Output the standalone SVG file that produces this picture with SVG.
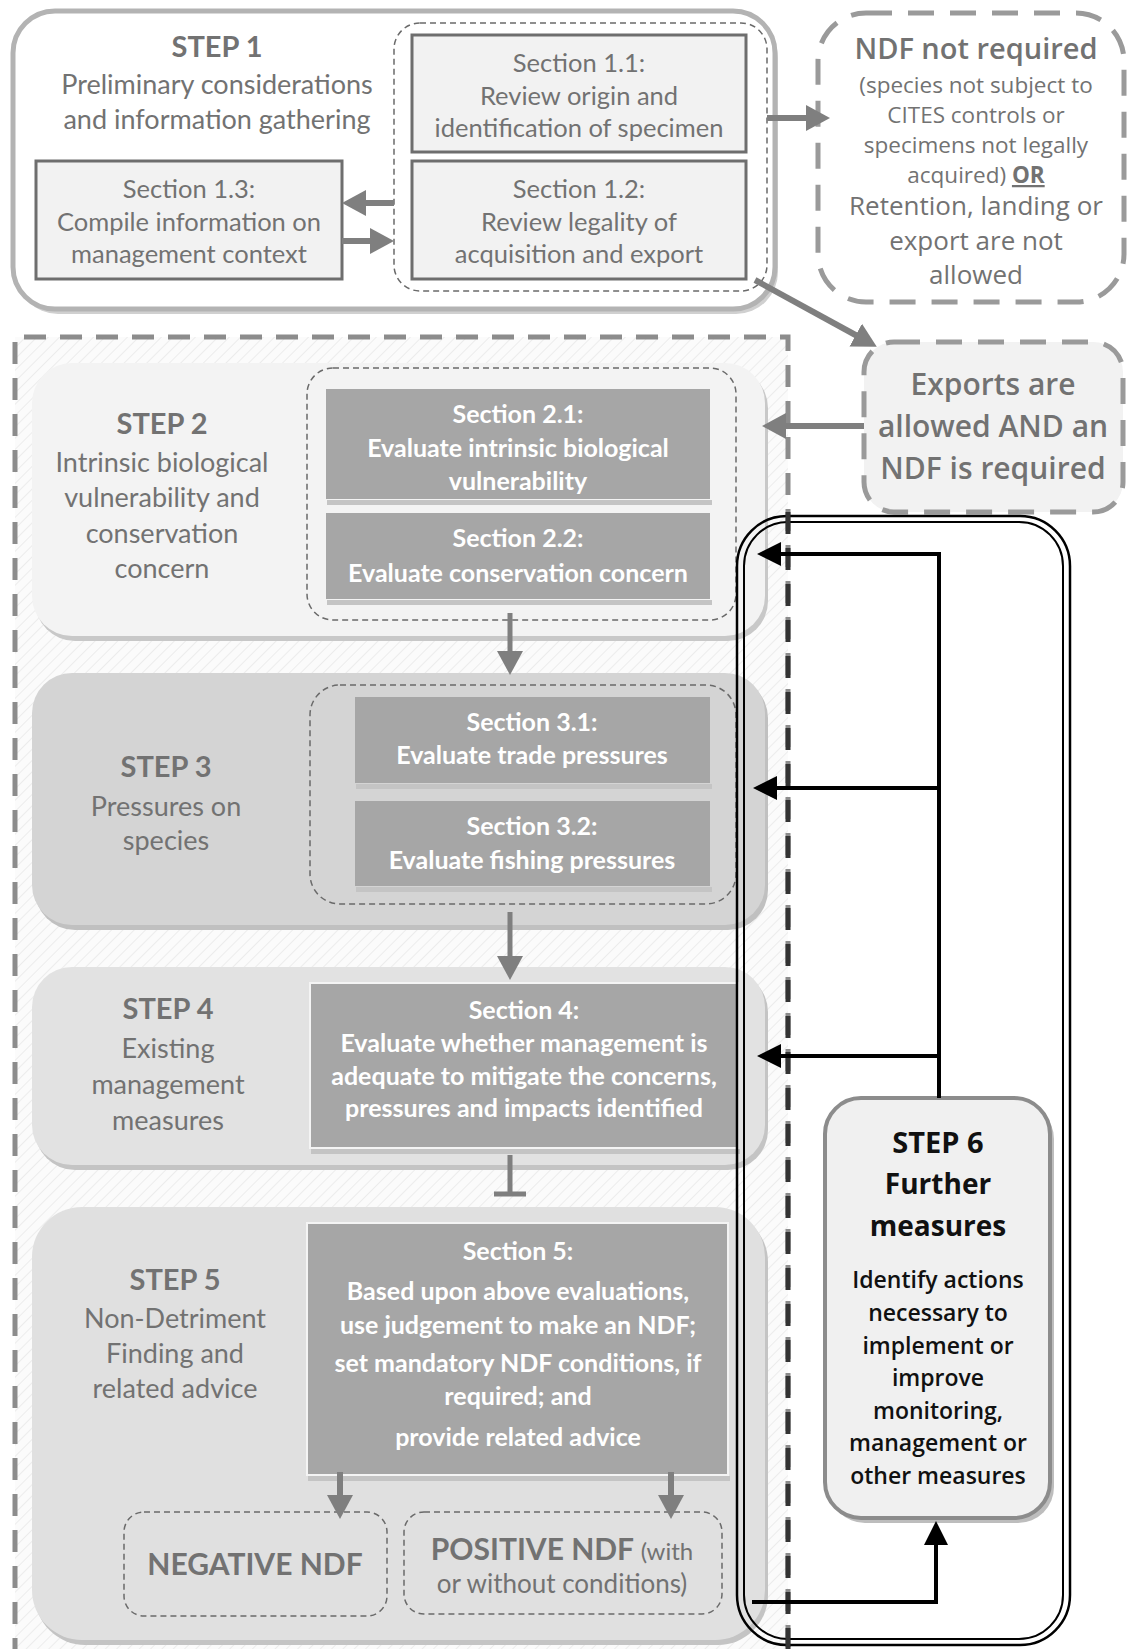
<svg xmlns="http://www.w3.org/2000/svg" width="1129" height="1649" viewBox="0 0 1129 1649">
  <style>
    .lt { font-family: Lato, "Liberation Sans", sans-serif; text-anchor: middle; }
    .os { font-family: "Open Sans", "Noto Sans", sans-serif; text-anchor: middle; }
    .grey { fill: #727272; }
    .wh { fill: #ffffff; font-weight: 700; }
    .title { font-size: 29px; font-weight: 700; }
    .desc { font-size: 27px; }
    .sec { font-size: 25.5px; }
    .secw { font-size: 25px; }
    .lightbox { fill: #f2f2f2; stroke: #6e6e6e; stroke-width: 3; }
    .darkbox { fill: #a6a6a6; }
    .shade { fill: #c4c4c4; }
    .thindash { fill: none; stroke: #6a6a6a; stroke-width: 1.5; stroke-dasharray: 6 4; }
    .bigdash { fill: none; stroke: #8c8c8c; stroke-width: 5; stroke-dasharray: 22 14; }
    .garrow { stroke: #7f7f7f; stroke-width: 6; fill: none; marker-end: url(#ghead); }
    .barrow { stroke: #000; stroke-width: 4; fill: none; }
    .bhead { marker-end: url(#bhead); }
    .s6 { font-size: 23px; font-weight: 600; fill: #111; }
  </style>
  <defs>
    <marker id="ghead" markerUnits="userSpaceOnUse" viewBox="0 0 24 26" markerWidth="24" markerHeight="26" refX="6" refY="13" orient="auto">
      <path d="M0,0 L24,13 L0,26 z" fill="#7f7f7f"/>
    </marker>
    <marker id="bhead" markerUnits="userSpaceOnUse" viewBox="0 0 24 24" markerWidth="24" markerHeight="24" refX="6" refY="12" orient="auto">
      <path d="M0,0 L24,12 L0,24 z" fill="#000"/>
    </marker>
    <pattern id="hatch" patternUnits="userSpaceOnUse" width="8" height="8" patternTransform="rotate(45)">
      <rect width="8" height="8" fill="#fbfbfb"/>
      <line x1="0" y1="0" x2="0" y2="8" stroke="#ececec" stroke-width="2"/>
    </pattern>
    <clipPath id="clip21"><rect x="326" y="389" width="384" height="110"/></clipPath>
  </defs>

  <rect width="1129" height="1649" fill="#ffffff"/>

  <!-- Steps 2-5 group frame -->
  <g id="assessment-frame">
    <rect x="15" y="337" width="773" height="1320" fill="url(#hatch)"/>
    <path class="bigdash" d="M15,1660 V337 H788 V1660"/>
  </g>

  <!-- STEP 1 -->
  <g id="step1">
    <rect x="16" y="16" width="762" height="298" rx="42" fill="#d0d0d0"/>
    <rect x="13" y="11" width="762" height="298" rx="42" fill="#ffffff" stroke="#b3b3b3" stroke-width="5"/>
    <text class="lt grey title" x="217" y="57">STEP 1</text>
    <text class="lt grey desc" x="217" y="94">Preliminary considerations</text>
    <text class="lt grey desc" x="217" y="129">and information gathering</text>
    <rect class="thindash" x="394" y="23" width="373" height="268" rx="26"/>
  </g>
  <g id="section1-1">
    <rect class="lightbox" x="412" y="35" width="334" height="117"/>
    <text class="lt grey sec" x="579" y="72">Section 1.1:</text>
    <text class="lt grey sec" x="579" y="105">Review origin and</text>
    <text class="lt grey sec" x="579" y="137">identification of specimen</text>
  </g>
  <g id="section1-2">
    <rect class="lightbox" x="412" y="161" width="334" height="118"/>
    <text class="lt grey sec" x="579" y="198">Section 1.2:</text>
    <text class="lt grey sec" x="579" y="231">Review legality of</text>
    <text class="lt grey sec" x="579" y="263">acquisition and export</text>
  </g>
  <g id="section1-3">
    <rect class="lightbox" x="36" y="161" width="306" height="118"/>
    <text class="lt grey sec" x="189" y="198">Section 1.3:</text>
    <text class="lt grey sec" x="189" y="231">Compile information on</text>
    <text class="lt grey sec" x="189" y="263">management context</text>
  </g>

  <!-- NDF not required -->
  <g id="ndf-not-required">
    <rect x="818" y="13" width="306" height="289" rx="48" fill="#ffffff" stroke="#9a9a9a" stroke-width="5" stroke-dasharray="26 16"/>
    <text class="os grey" x="976" y="59" font-size="29" font-weight="600">NDF not required</text>
    <text class="os grey" x="976" y="93" font-size="22.5">(species not subject to</text>
    <text class="os grey" x="976" y="123" font-size="22.5">CITES controls or</text>
    <text class="os grey" x="976" y="153" font-size="22.5">specimens not legally</text>
    <text class="os grey" x="976" y="183" font-size="22.5">acquired) <tspan font-weight="700" text-decoration="underline">OR</tspan></text>
    <text class="os grey" x="976" y="215" font-size="26">Retention, landing or</text>
    <text class="os grey" x="976" y="250" font-size="26">export are not</text>
    <text class="os grey" x="976" y="284" font-size="26">allowed</text>
  </g>

  <!-- Exports allowed -->
  <g id="exports-allowed">
    <rect x="864" y="342" width="259" height="170" rx="30" fill="#f2f2f2" stroke="#9a9a9a" stroke-width="5" stroke-dasharray="26 16"/>
    <text class="os grey" x="993" y="395" font-size="30" font-weight="600">Exports are</text>
    <text class="os grey" x="993" y="437" font-size="30" font-weight="600">allowed AND an</text>
    <text class="os grey" x="993" y="479" font-size="30" font-weight="600">NDF is required</text>
  </g>

  <!-- STEP 2 -->
  <g id="step2">
    <rect x="35" y="368" width="733" height="273" rx="40" fill="#c8c8c8"/>
    <rect x="32" y="363" width="733" height="273" rx="40" fill="#f3f3f3"/>
    <text class="lt grey title" x="162" y="434">STEP 2</text>
    <text class="lt grey desc" x="162" y="472">Intrinsic biological</text>
    <text class="lt grey desc" x="162" y="507">vulnerability and</text>
    <text class="lt grey desc" x="162" y="543">conservation</text>
    <text class="lt grey desc" x="162" y="578">concern</text>
    <rect class="thindash" x="307" y="368" width="429" height="252" rx="26" fill="#f6f6f6"/>
  </g>
  <g id="section2-1">
    <rect class="shade" x="327" y="500" width="385" height="5"/>
    <rect class="darkbox" x="326" y="389" width="384" height="110"/>
    <g clip-path="url(#clip21)">
      <text class="lt wh secw" x="518" y="423">Section 2.1:</text>
      <text class="lt wh secw" x="518" y="457">Evaluate intrinsic biological</text>
      <text class="lt wh secw" x="518" y="490">vulnerability</text>
    </g>
  </g>
  <g id="section2-2">
    <rect class="shade" x="327" y="600" width="385" height="5"/>
    <rect class="darkbox" x="326" y="513" width="384" height="86"/>
    <text class="lt wh secw" x="518" y="547">Section 2.2:</text>
    <text class="lt wh secw" x="518" y="582">Evaluate conservation concern</text>
  </g>

  <!-- STEP 3 -->
  <g id="step3">
    <rect x="35" y="678" width="733" height="252" rx="40" fill="#c0c0c0"/>
    <rect x="32" y="673" width="733" height="252" rx="40" fill="#d4d4d4"/>
    <text class="lt grey title" x="166" y="777">STEP 3</text>
    <text class="lt grey desc" x="166" y="816">Pressures on</text>
    <text class="lt grey desc" x="166" y="850">species</text>
    <rect class="thindash" x="310" y="685" width="426" height="219" rx="30" fill="#ffffff"/>
  </g>
  <g id="section3-1">
    <rect class="shade" x="356" y="784" width="356" height="5"/>
    <rect class="darkbox" x="355" y="697" width="355" height="86"/>
    <text class="lt wh secw" x="532" y="731">Section 3.1:</text>
    <text class="lt wh secw" x="532" y="764">Evaluate trade pressures</text>
  </g>
  <g id="section3-2">
    <rect class="shade" x="356" y="887" width="356" height="5"/>
    <rect class="darkbox" x="355" y="801" width="355" height="85"/>
    <text class="lt wh secw" x="532" y="835">Section 3.2:</text>
    <text class="lt wh secw" x="532" y="869">Evaluate fishing pressures</text>
  </g>

  <!-- STEP 4 -->
  <g id="step4">
    <rect x="35" y="972" width="733" height="198" rx="40" fill="#c4c4c4"/>
    <rect x="32" y="967" width="733" height="198" rx="40" fill="#e2e2e2"/>
    <text class="lt grey title" x="168" y="1019">STEP 4</text>
    <text class="lt grey desc" x="168" y="1058">Existing</text>
    <text class="lt grey desc" x="168" y="1094">management</text>
    <text class="lt grey desc" x="168" y="1130">measures</text>
  </g>
  <g id="section4">
    <rect class="shade" x="311" y="1149" width="429" height="5"/>
    <rect class="darkbox" x="310" y="983" width="428" height="165" stroke="#f4f4f4" stroke-width="2"/>
    <text class="lt wh secw" x="524" y="1019">Section 4:</text>
    <text class="lt wh secw" x="524" y="1052">Evaluate whether management is</text>
    <text class="lt wh secw" x="524" y="1085">adequate to mitigate the concerns,</text>
    <text class="lt wh secw" x="524" y="1117">pressures and impacts identified</text>
  </g>

  <!-- STEP 5 -->
  <g id="step5">
    <rect x="35" y="1212" width="733" height="433" rx="50" fill="#c4c4c4"/>
    <rect x="32" y="1207" width="733" height="433" rx="50" fill="#e0e0e0"/>
    <text class="lt grey title" x="175" y="1290">STEP 5</text>
    <text class="lt grey desc" x="175" y="1328">Non-Detriment</text>
    <text class="lt grey desc" x="175" y="1363">Finding and</text>
    <text class="lt grey desc" x="175" y="1398">related advice</text>
  </g>
  <g id="section5">
    <rect class="shade" x="308" y="1476" width="422" height="5"/>
    <rect class="darkbox" x="307" y="1223" width="421" height="252" stroke="#f4f4f4" stroke-width="2"/>
    <text class="lt wh secw" x="518" y="1260">Section 5:</text>
    <text class="lt wh secw" x="518" y="1300">Based upon above evaluations,</text>
    <text class="lt wh secw" x="518" y="1334">use judgement to  make an NDF;</text>
    <text class="lt wh secw" x="518" y="1372">set mandatory NDF conditions, if</text>
    <text class="lt wh secw" x="518" y="1405">required; and</text>
    <text class="lt wh secw" x="518" y="1446">provide related advice</text>
  </g>
  <g id="negative-ndf">
    <rect class="thindash" x="124" y="1512" width="263" height="104" rx="20" fill="#ffffff" stroke="#8a8a8a"/>
    <text class="lt grey" x="255" y="1575" font-size="30" font-weight="700">NEGATIVE NDF</text>
  </g>
  <g id="positive-ndf">
    <rect class="thindash" x="404" y="1512" width="318" height="102" rx="20" fill="#ffffff" stroke="#8a8a8a"/>
    <text class="lt grey" x="562" y="1560" font-size="30" font-weight="700">POSITIVE NDF <tspan font-size="24" font-weight="400">(with</tspan></text>
    <text class="lt grey" x="562" y="1593" font-size="26">or without conditions)</text>
  </g>

  <!-- STEP 6 -->
  <g id="step6">
    <rect x="829" y="1103" width="225" height="420" rx="36" fill="#bdbdbd"/>
    <rect x="825" y="1098" width="225" height="420" rx="36" fill="#f0f0f0" stroke="#8c8c8c" stroke-width="4"/>
    <text class="os" x="938" y="1153" font-size="29" font-weight="700" fill="#111">STEP 6</text>
    <text class="os" x="938" y="1194" font-size="28" font-weight="700" fill="#111">Further</text>
    <text class="os" x="938" y="1236" font-size="28" font-weight="700" fill="#111">measures</text>
    <text class="os s6" x="938" y="1288">Identify actions</text>
    <text class="os s6" x="938" y="1321">necessary to</text>
    <text class="os s6" x="938" y="1354">implement or</text>
    <text class="os s6" x="938" y="1386">improve</text>
    <text class="os s6" x="938" y="1419">monitoring,</text>
    <text class="os s6" x="938" y="1451">management or</text>
    <text class="os s6" x="938" y="1484">other measures</text>
  </g>

  <!-- Feedback loop outline -->
  <g id="feedback-loop">
    <rect x="737" y="516" width="333" height="1129" rx="50" fill="none" stroke="#000" stroke-width="2.5"/>
    <rect x="744" y="522" width="319" height="1117" rx="44" fill="none" stroke="#000" stroke-width="2"/>
    <line x1="788" y1="512" x2="788" y2="1660" stroke="#333" stroke-width="5" stroke-dasharray="22 14"/>
  </g>

  <!-- Connectors -->
  <g id="connectors">
    <line class="garrow" x1="394" y1="203" x2="360" y2="203"/>
    <line class="garrow" x1="342" y1="241" x2="376" y2="241"/>
    <line class="garrow" x1="767" y1="118" x2="812" y2="118"/>
    <line class="garrow" x1="755" y1="280" x2="861" y2="338"/>
    <line class="garrow" x1="864" y1="426" x2="780" y2="426"/>
    <line class="garrow" x1="510" y1="613" x2="510" y2="657" style="stroke-width:5"/>
    <line class="garrow" x1="510" y1="912" x2="510" y2="962" style="stroke-width:5"/>
    <path d="M510,1155 V1194 M494,1194 H526" stroke="#7f7f7f" stroke-width="5" fill="none"/>
    <line class="garrow" x1="340" y1="1472" x2="340" y2="1501"/>
    <line class="garrow" x1="671" y1="1472" x2="671" y2="1501"/>

    <line class="barrow" x1="939" y1="1098" x2="939" y2="552"/>
    <line class="barrow bhead" x1="941" y1="554" x2="775" y2="554"/>
    <line class="barrow bhead" x1="941" y1="788" x2="771" y2="788"/>
    <line class="barrow bhead" x1="941" y1="1056" x2="775" y2="1056"/>
    <path class="barrow bhead" d="M752,1602 H936 V1539"/>
  </g>
</svg>
